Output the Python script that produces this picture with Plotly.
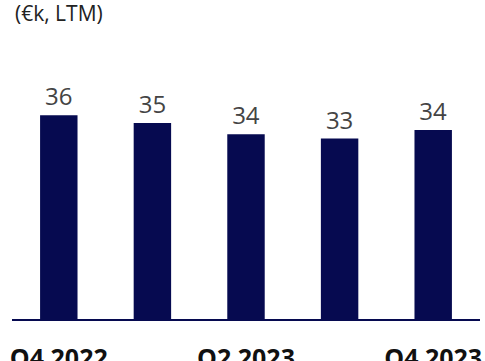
import plotly.graph_objects as go

# Average value per period, last twelve months (€k)
quarters = ["Q4 2022", "Q1 2023", "Q2 2023", "Q3 2023", "Q4 2023"]
values = [36.0, 35.0, 33.55, 33.0, 34.1]
shown_ticks = ["Q4 2022", "Q2 2023", "Q4 2023"]

NAVY = "#060a50"

fig = go.Figure(
    go.Bar(
        x=quarters,
        y=values,
        marker=dict(color=NAVY, line=dict(width=0)),
        texttemplate="%{y:.0f}",
        textposition="outside",
        textfont=dict(family="Open Sans", size=24, color="#444444"),
        cliponaxis=False,
        hoverinfo="skip",
    )
)

fig.update_layout(
    width=485,
    height=361,
    margin=dict(l=12, r=5, t=60, b=42, autoexpand=False),
    paper_bgcolor="white",
    plot_bgcolor="white",
    bargap=0.6,
    showlegend=False,
    title=dict(
        text="(€k, LTM)",
        x=15 / 485,
        xanchor="left",
        xref="container",
        y=1 - 6 / 361,
        yanchor="top",
        yref="container",
        font=dict(family="Open Sans", size=21, color="#222222"),
    ),
)

fig.update_xaxes(
    tickmode="array",
    tickvals=shown_ticks,
    ticktext=shown_ticks,
    tickfont=dict(family="Open Sans", size=25, color="#111111", weight="bold"),
    showline=True,
    linecolor=NAVY,
    linewidth=1.5,
    ticks="",
    showgrid=False,
    automargin=False,
    ticklabelstandoff=16,
)

fig.update_yaxes(
    range=[9.8, 43.1],
    visible=False,
    showgrid=False,
)

fig.write_html("out.html")
